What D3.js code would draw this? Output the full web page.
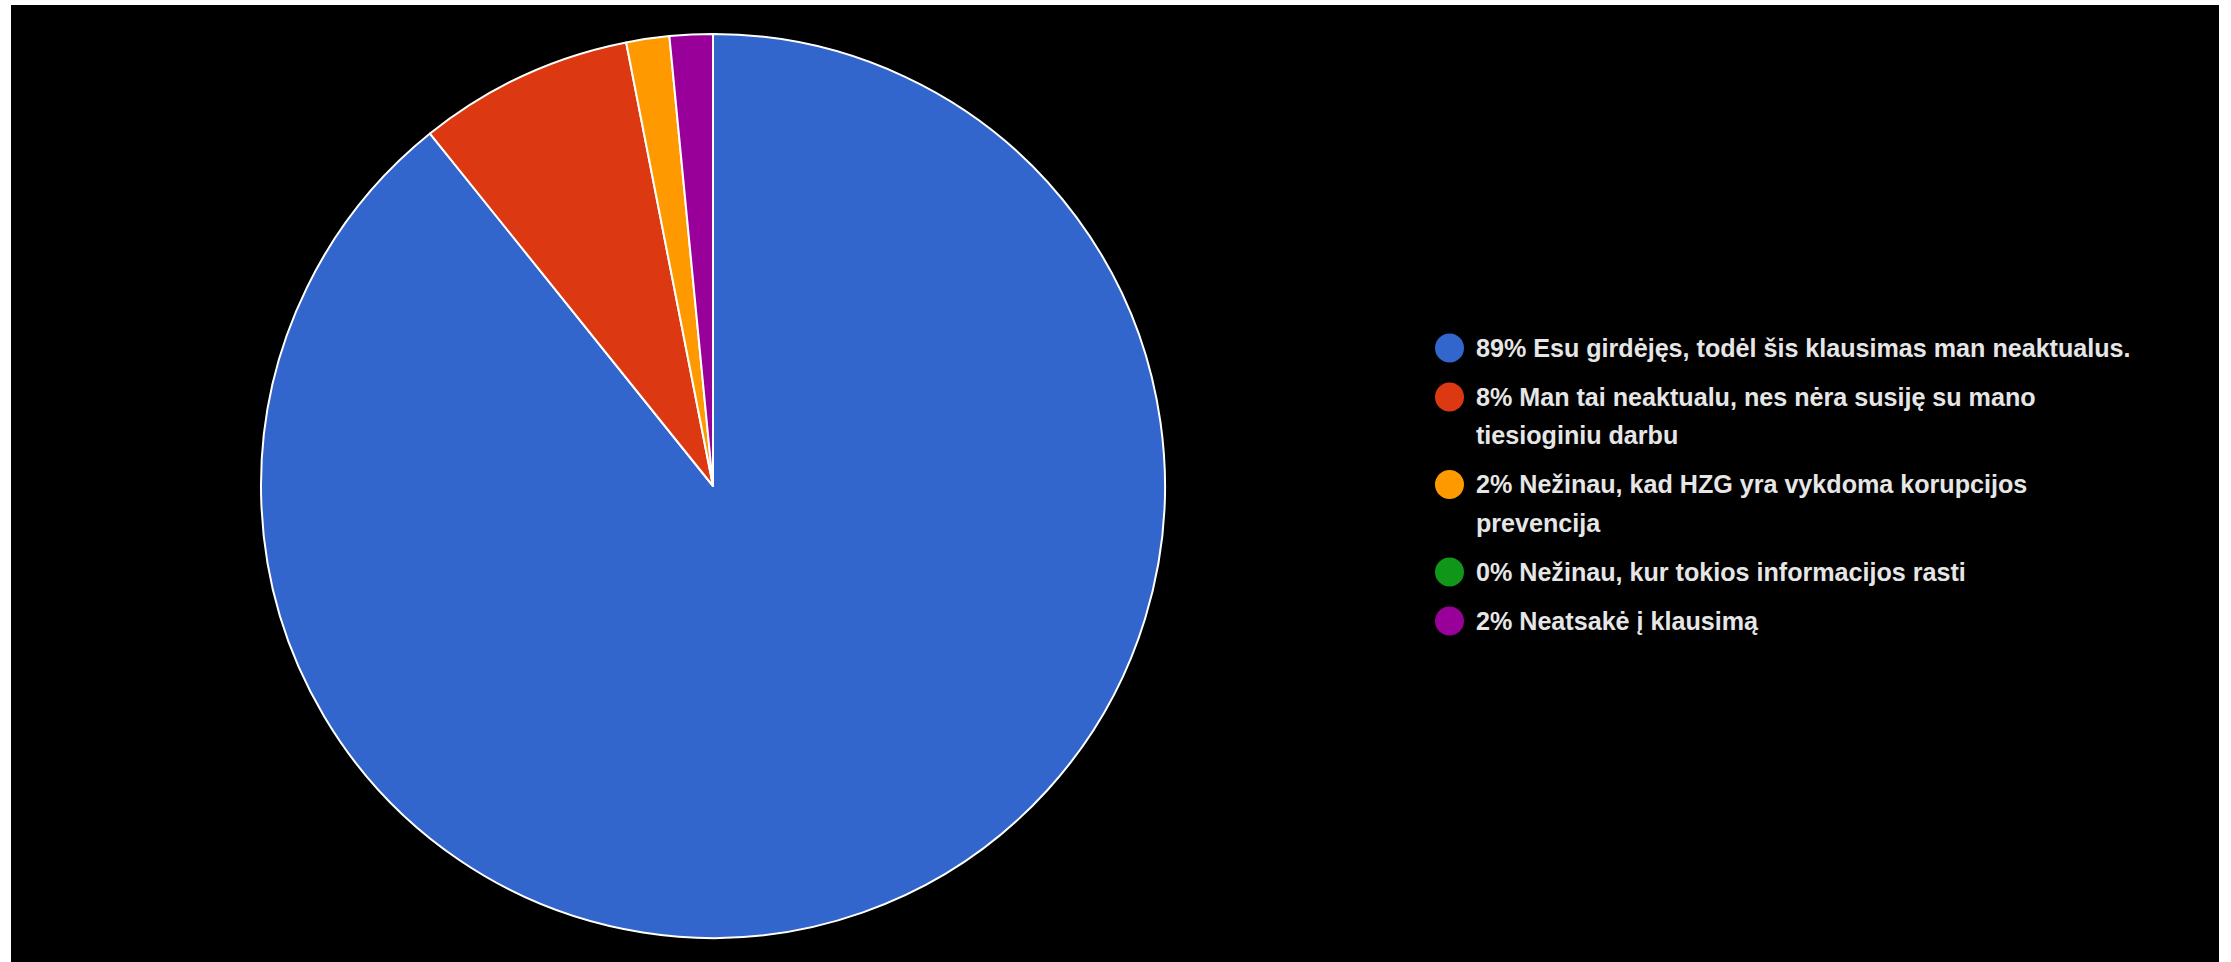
<!DOCTYPE html>
<html><head><meta charset="utf-8">
<script src="https://cdn.jsdelivr.net/npm/d3@7"></script>
<style>html,body{margin:0;padding:0;background:#fff;overflow:hidden}</style>
</head><body>
<svg id="chart" width="2231" height="962"></svg>
<script>
const categories = [
  "Esu girdėjęs, todėl šis klausimas man neaktualus.",
  "Man tai neaktualu, nes nėra susiję su mano tiesioginiu darbu",
  "Nežinau, kad HZG yra vykdoma korupcijos prevencija",
  "Nežinau, kur tokios informacijos rasti",
  "Neatsakė į klausimą"
];
const counts = [58, 5, 1, 0, 1];
const colors = ["#3366cc", "#dc3912", "#ff9900", "#109618", "#990099"];

const svg = d3.select("#chart");
svg.append("rect").attr("x", 11).attr("y", 5).attr("width", 2208).attr("height", 957).attr("fill", "#000");

const cx = 713, cy = 486, r = 452;
const total = d3.sum(counts);
const data = categories.map((c, i) => ({cat: c, v: counts[i], color: colors[i]}));
const pie = d3.pie().value(d => d.v).sort(null);
const arc = d3.arc().innerRadius(0).outerRadius(r);
const g = svg.append("g").attr("transform", `translate(${cx},${cy})`);
g.selectAll("path").data(pie(data).filter(d => d.data.v > 0)).join("path")
  .attr("d", arc).attr("fill", d => d.data.color)
  .attr("stroke", "#fff").attr("stroke-width", 2).attr("stroke-linejoin", "round");

// legend
const fmt = v => Math.round(v / total * 100) + "%";
const FONT = "Liberation Sans, Arial, sans-serif";
const lx = 1449.5, tx = 1476, fs = 25, maxW = 664, lineH = 38.5, itemGap = 49, firstW = 655;
const leg = svg.append("g");
const measure = svg.append("text").attr("font-family", FONT).attr("font-size", fs).attr("font-weight", "bold").attr("visibility", "hidden");
function rawW(s) { measure.text(s); return measure.node().getComputedTextLength(); }
const sx = firstW / rawW(fmt(data[0].v) + " " + data[0].cat);
function w(s) { return rawW(s) * sx; }
let y = 348;
data.forEach((d, i) => {
  const words = (fmt(d.v) + " " + d.cat).split(" ");
  const lines = []; let cur = "";
  words.forEach(wd => {
    const t = cur ? cur + " " + wd : wd;
    if (w(t) > maxW && cur) { lines.push(cur); cur = wd; } else cur = t;
  });
  lines.push(cur);
  leg.append("circle").attr("cx", lx).attr("cy", y).attr("r", 14.5).attr("fill", d.color);
  lines.forEach((ln, k) => {
    leg.append("text").attr("transform", `translate(${tx},${y + 8.5 + k * lineH}) scale(${sx},1)`)
      .attr("font-family", FONT).attr("font-size", fs).attr("font-weight", "bold")
      .attr("fill", "#e6e6e6").text(ln);
  });
  y += (lines.length - 1) * lineH + itemGap;
});
measure.remove();
</script>
</body></html>
